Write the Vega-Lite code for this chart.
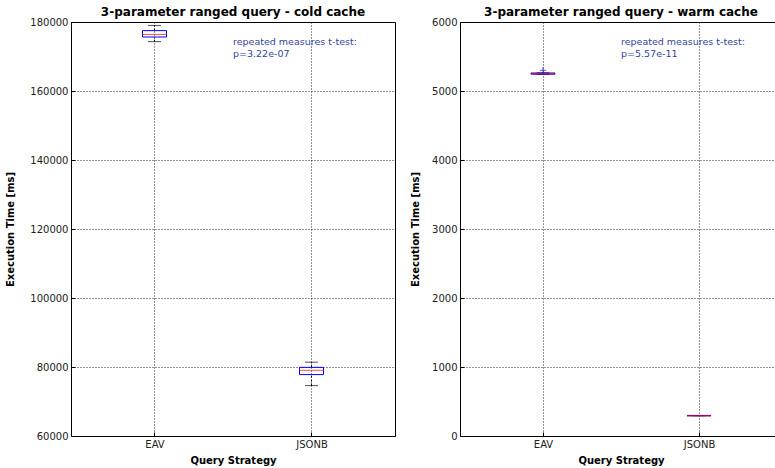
{
  "$schema": "https://vega.github.io/schema/vega-lite/v6.json",
  "padding": {"left": 5, "top": 5, "right": 0, "bottom": 0},
  "background": "white",
  "config": {
    "font": "DejaVu Sans",
    "view": {"stroke": "black", "strokeWidth": 1},
    "axis": {
      "grid": true, "gridColor": "black", "gridDash": [1, 2], "gridOpacity": 0.85, "gridWidth": 1,
      "domain": false, "tickColor": "black", "tickSize": -4, "labelPadding": 7,
      "labelFont": "DejaVu Sans", "labelFontSize": 10, "labelColor": "#222222",
      "titleFont": "DejaVu Sans", "titleFontSize": 10, "titleFontWeight": "bold", "titleColor": "black"
    },
    "title": {"font": "DejaVu Sans", "fontSize": 12, "fontWeight": "bold", "color": "black", "offset": -2},
    "concat": {"spacing": 14}
  },
  "hconcat": [
    {
      "width": 324, "height": 414,
      "title": "3-parameter ranged query - cold cache",
      "data": {"values": [
        {"strategy": "EAV", "pos": 1, "lo": 174300, "q1": 175650, "med": 176400, "q3": 177500, "hi": 179000},
        {"strategy": "JSONB", "pos": 2, "lo": 74600, "q1": 77800, "med": 79050, "q3": 79900, "hi": 81400}
      ]},
      "encoding": {
        "x": {"field": "pos", "type": "quantitative", "scale": {"domain": [0.5, 2.5], "nice": false},
          "axis": {"values": [1, 2], "labelExpr": "datum.value == 1 ? 'EAV' : 'JSONB'", "title": "Query Strategy", "titlePadding": 6}}
      },
      "layer": [
        {"mark": {"type": "rule", "color": "black", "strokeDash": [2, 2]},
          "encoding": {"y": {"field": "lo", "type": "quantitative", "scale": {"domain": [60000, 180000], "nice": false},
            "axis": {"values": [60000, 80000, 100000, 120000, 140000, 160000, 180000], "format": "d", "title": "Execution Time [ms]", "titlePadding": 14}},
            "y2": {"field": "q1"}}},
        {"mark": {"type": "rule", "color": "black", "strokeDash": [2, 2]},
          "encoding": {"y": {"field": "q3", "type": "quantitative"}, "y2": {"field": "hi"}}},
        {"mark": {"type": "tick", "orient": "horizontal", "color": "black", "size": 13, "thickness": 1},
          "encoding": {"y": {"field": "lo", "type": "quantitative"}}},
        {"mark": {"type": "tick", "orient": "horizontal", "color": "black", "size": 13, "thickness": 1},
          "encoding": {"y": {"field": "hi", "type": "quantitative"}}},
        {"mark": {"type": "bar", "orient": "vertical", "size": 24, "filled": false, "stroke": "#0000ff", "strokeWidth": 1},
          "encoding": {"y": {"field": "q1", "type": "quantitative"}, "y2": {"field": "q3"}}},
        {"mark": {"type": "tick", "orient": "horizontal", "color": "#ff0000", "size": 24, "thickness": 1},
          "encoding": {"y": {"field": "med", "type": "quantitative"}}},
        {"data": {"values": [{"pos": 1.5, "y": 175600, "label": "repeated measures t-test:\np=3.22e-07"}]},
          "mark": {"type": "text", "align": "left", "baseline": "top", "lineBreak": "\n", "lineHeight": 11.5, "fontSize": 9.5, "color": "#34459e"},
          "encoding": {"y": {"field": "y", "type": "quantitative"}, "text": {"field": "label"}}}
      ]
    },
    {
      "width": 322, "height": 414,
      "title": "3-parameter ranged query - warm cache",
      "data": {"values": [
        {"strategy": "EAV", "pos": 1, "lo": 5240, "q1": 5244, "med": 5252, "q3": 5260, "hi": 5264},
        {"strategy": "JSONB", "pos": 2, "lo": 293, "q1": 294, "med": 295, "q3": 296, "hi": 297}
      ]},
      "encoding": {
        "x": {"field": "pos", "type": "quantitative", "scale": {"domain": [0.5, 2.5], "nice": false},
          "axis": {"values": [1, 2], "labelExpr": "datum.value == 1 ? 'EAV' : 'JSONB'", "title": "Query Strategy", "titlePadding": 6}}
      },
      "layer": [
        {"mark": {"type": "rule", "color": "black", "strokeDash": [2, 2]},
          "encoding": {"y": {"field": "lo", "type": "quantitative", "scale": {"domain": [0, 6000], "nice": false},
            "axis": {"values": [0, 1000, 2000, 3000, 4000, 5000, 6000], "format": "d", "title": "Execution Time [ms]", "titlePadding": 11}},
            "y2": {"field": "q1"}}},
        {"mark": {"type": "rule", "color": "black", "strokeDash": [2, 2]},
          "encoding": {"y": {"field": "q3", "type": "quantitative"}, "y2": {"field": "hi"}}},
        {"mark": {"type": "tick", "orient": "horizontal", "color": "black", "size": 13, "thickness": 1},
          "encoding": {"y": {"field": "lo", "type": "quantitative"}}},
        {"mark": {"type": "tick", "orient": "horizontal", "color": "black", "size": 13, "thickness": 1},
          "encoding": {"y": {"field": "hi", "type": "quantitative"}}},
        {"mark": {"type": "bar", "orient": "vertical", "size": 24, "filled": false, "stroke": "#0000ff", "strokeWidth": 1},
          "encoding": {"y": {"field": "q1", "type": "quantitative"}, "y2": {"field": "q3"}}},
        {"mark": {"type": "tick", "orient": "horizontal", "color": "#d0102a", "size": 24, "thickness": 1.6},
          "encoding": {"y": {"field": "med", "type": "quantitative"}}},
        {"data": {"values": [{"pos": 1, "time": 5300}]},
          "mark": {"type": "point", "shape": "M-1,0H1M0,-1V1", "filled": false, "stroke": "#0000ff", "strokeWidth": 1, "size": 40},
          "encoding": {"y": {"field": "time", "type": "quantitative"}}},
        {"data": {"values": [{"pos": 1.5, "y": 5780, "label": "repeated measures t-test:\np=5.57e-11"}]},
          "mark": {"type": "text", "align": "left", "baseline": "top", "lineBreak": "\n", "lineHeight": 11.5, "fontSize": 9.5, "color": "#34459e"},
          "encoding": {"y": {"field": "y", "type": "quantitative"}, "text": {"field": "label"}}}
      ]
    }
  ]
}
